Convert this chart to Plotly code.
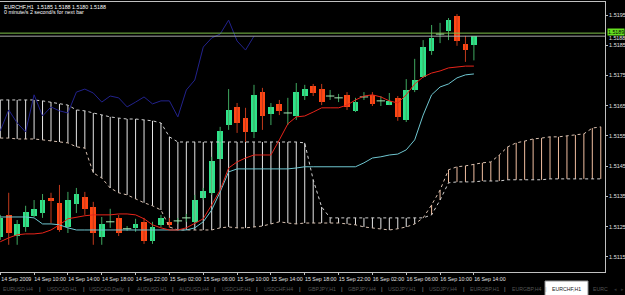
import plotly.graph_objects as go

# ---------------- data (EURCHF, H1) ----------------
bars = list(range(57))  # 14 Sep 06:00 ... 16 Sep 14:00
opens = [1.51216, 1.51289, 1.51219, 1.51249, 1.51286, 1.51295, 1.51345, 1.51329, 1.51249, 1.51325,
         1.51348, 1.51315, 1.51216, 1.51266, 1.51279, 1.51243, 1.51246, 1.51266, 1.51203, 1.51256,
         1.51266, 1.51269, 1.51279, 1.51266, 1.51345, 1.51362, 1.51474, 1.51586, 1.51646, 1.51609,
         1.51563, 1.51695, 1.51623, 1.51656, 1.51626, 1.51616, 1.51682, 1.51715, 1.51705, 1.51682,
         1.51676, 1.51686, 1.51633, 1.51679, 1.51686, 1.51666, 1.51652, 1.51676, 1.51603, 1.51702,
         1.51745, 1.51831, 1.51887, 1.51897, 1.51947, 1.51854, 1.51850]
highs = [1.51289, 1.51362, 1.51272, 1.51319, 1.51338, 1.51358, 1.51362, 1.51388, 1.51365, 1.51378,
         1.51365, 1.51332, 1.51282, 1.51309, 1.51289, 1.51252, 1.51276, 1.51279, 1.51266, 1.51289,
         1.51279, 1.51279, 1.51292, 1.51355, 1.51378, 1.51481, 1.51580, 1.51705, 1.51659, 1.51643,
         1.51719, 1.51709, 1.51659, 1.51669, 1.51676, 1.51725, 1.51719, 1.51722, 1.51722, 1.51702,
         1.51689, 1.51695, 1.51676, 1.51695, 1.51695, 1.51682, 1.51692, 1.51682, 1.51738, 1.51805,
         1.51867, 1.51917, 1.51924, 1.51940, 1.51953, 1.51881, 1.51880]
lows = [1.51206, 1.51190, 1.51190, 1.51233, 1.51282, 1.51279, 1.51262, 1.51233, 1.51229, 1.51295,
        1.51289, 1.51190, 1.51190, 1.51246, 1.51219, 1.51236, 1.51233, 1.51193, 1.51193, 1.51249,
        1.51246, 1.51259, 1.51266, 1.51259, 1.51338, 1.51355, 1.51471, 1.51570, 1.51560, 1.51530,
        1.51543, 1.51570, 1.51586, 1.51619, 1.51586, 1.51603, 1.51669, 1.51682, 1.51652, 1.51669,
        1.51662, 1.51636, 1.51629, 1.51669, 1.51649, 1.51649, 1.51652, 1.51600, 1.51596, 1.51695,
        1.51742, 1.51818, 1.51857, 1.51867, 1.51848, 1.51795, 1.51800]
closes = [1.51279, 1.51229, 1.51259, 1.51299, 1.51309, 1.51338, 1.51335, 1.51239, 1.51338, 1.51358,
          1.51309, 1.51229, 1.51259, 1.51266, 1.51229, 1.51243, 1.51259, 1.51203, 1.51249, 1.51279,
          1.51256, 1.51269, 1.51279, 1.51338, 1.51368, 1.51467, 1.51567, 1.51636, 1.51593, 1.51563,
          1.51686, 1.51616, 1.51646, 1.51633, 1.51626, 1.51695, 1.51705, 1.51692, 1.51662, 1.51682,
          1.51676, 1.51646, 1.51662, 1.51679, 1.51656, 1.51666, 1.51666, 1.51613, 1.51702, 1.51735,
          1.51844, 1.51874, 1.51887, 1.51933, 1.51864, 1.51834, 1.51880]

tenkan = [1.51200, 1.51213, 1.51223, 1.51226, 1.51226, 1.51229, 1.51239, 1.51256, 1.51276, 1.51282,
          1.51286, 1.51289, 1.51289, 1.51289, 1.51292, 1.51292, 1.51289, 1.51276, 1.51256, 1.51246,
          1.51239, 1.51239, 1.51246, 1.51262, 1.51276, 1.51322, 1.51371, 1.51444, 1.51464, 1.51477,
          1.51487, 1.51487, 1.51487, 1.51537, 1.51590, 1.51613, 1.51616, 1.51629, 1.51643, 1.51643,
          1.51643, 1.51652, 1.51669, 1.51682, 1.51686, 1.51679, 1.51666, 1.51659, 1.51686, 1.51722,
          1.51745, 1.51758, 1.51765, 1.51775, 1.51778, 1.51781, 1.51781]
kijun = [1.51282, 1.51282, 1.51282, 1.51282, 1.51279, 1.51259, 1.51259, 1.51256, 1.51246, 1.51239,
         1.51239, 1.51239, 1.51239, 1.51239, 1.51239, 1.51239, 1.51239, 1.51239, 1.51239, 1.51239,
         1.51239, 1.51239, 1.51239, 1.51246, 1.51266, 1.51305, 1.51365, 1.51431, 1.51441, 1.51441,
         1.51441, 1.51441, 1.51441, 1.51441, 1.51441, 1.51444, 1.51448, 1.51448, 1.51448, 1.51448,
         1.51448, 1.51448, 1.51448, 1.51461, 1.51477, 1.51481, 1.51487, 1.51490, 1.51504, 1.51537,
         1.51619, 1.51686, 1.51712, 1.51722, 1.51742, 1.51752, 1.51755]
# Senkou spans, drawn 26 bars ahead (bars 0..71)
span_a = [1.51543, 1.51543, 1.51540, 1.51540, 1.51540, 1.51537, 1.51533, 1.51530, 1.51527, 1.51514,
          1.51510, 1.51428, 1.51411, 1.51378, 1.51362, 1.51355, 1.51342, 1.51329, 1.51319, 1.51305,
          1.51249, 1.51239, 1.51239, 1.51239, 1.51239, 1.51239, 1.51246, 1.51249, 1.51246, 1.51246,
          1.51249, 1.51252, 1.51259, 1.51266, 1.51262, 1.51259, 1.51262, 1.51262, 1.51262, 1.51262,
          1.51262, 1.51259, 1.51256, 1.51249, 1.51246, 1.51243, 1.51239, 1.51243, 1.51249, 1.51259,
          1.51279, 1.51322, 1.51371, 1.51438, 1.51448, 1.51451, 1.51457, 1.51461, 1.51464, 1.51487,
          1.51514, 1.51527, 1.51533, 1.51540, 1.51543, 1.51547, 1.51547, 1.51550, 1.51553, 1.51557,
          1.51576, 1.51580]
span_b = [1.51669, 1.51669, 1.51669, 1.51669, 1.51669, 1.51666, 1.51662, 1.51656, 1.51652, 1.51636,
          1.51633, 1.51626, 1.51619, 1.51613, 1.51609, 1.51606, 1.51606, 1.51603, 1.51600, 1.51593,
          1.51547, 1.51530, 1.51530, 1.51530, 1.51530, 1.51530, 1.51530, 1.51530, 1.51530, 1.51530,
          1.51530, 1.51530, 1.51530, 1.51530, 1.51530, 1.51530, 1.51527, 1.51405, 1.51315, 1.51279,
          1.51279, 1.51279, 1.51279, 1.51279, 1.51279, 1.51279, 1.51279, 1.51279, 1.51279, 1.51279,
          1.51279, 1.51289, 1.51338, 1.51395, 1.51398, 1.51398, 1.51398, 1.51401, 1.51401, 1.51401,
          1.51405, 1.51405, 1.51405, 1.51405, 1.51405, 1.51408, 1.51408, 1.51408, 1.51408, 1.51408,
          1.51408, 1.51408]
chikou_shift = 26

time_label_bars = [0, 4, 8, 12, 16, 20, 24, 28, 32, 36, 40, 44, 48, 52, 56]
time_labels = ["14 Sep 2009", "14 Sep 10:00", "14 Sep 14:00", "14 Sep 18:00", "14 Sep 22:00",
               "15 Sep 02:00", "15 Sep 06:00", "15 Sep 10:00", "15 Sep 14:00", "15 Sep 18:00",
               "15 Sep 22:00", "16 Sep 02:00", "16 Sep 06:00", "16 Sep 10:00", "16 Sep 14:00"]
price_ticks = [1.5115, 1.5125, 1.5135, 1.5145, 1.5155, 1.5165, 1.5175, 1.5185, 1.5195]
hline_price = 1.5189
bid_price = 1.5188
title_line1 = "EURCHF,H1  1.5185 1.5188 1.5180 1.5188"
title_line2 = "0 minute/s 2 second/s for next bar"
tabs = ["EURUSD,H4", "USDCAD,H1", "USDCAD,Daily", "AUDUSD,H1", "AUDUSD,H4", "USDCHF,H1",
        "USDCHF,H4", "GBPJPY,H1", "GBPJPY,H4", "USDJPY,H1", "USDJPY,H4", "EURGBP,H1",
        "EURGBP,H4", "EURCHF,H1", "EURC"]
tab_centers_px = [18, 62, 106, 152, 194, 236, 278, 322, 362, 402, 443, 484, 526, 566, 600]
active_tab = "EURCHF,H1"

# ---------------- styles ----------------
FONT = "Liberation Sans"
BULL = "#2ee38a"
BEAR = "#ff4714"
BULL_WICK = "#3fa860"
BEAR_WICK = "#c23a1c"
DOJI = "#a8e8b4"
KUMO_UP = "#f0bea0"
KUMO_DN = "#e6e6e6"
PLOT_W, PLOT_H, TOP = 605, 270, 2

fig = go.Figure()

# cloud histogram
ux, uy, dx, dy = [], [], [], []
for i, (a, b) in enumerate(zip(span_a, span_b)):
    if a > b:
        ux += [i, i, None]; uy += [a, b, None]
    elif b > a:
        dx += [i, i, None]; dy += [a, b, None]
fig.add_trace(go.Scatter(x=dx, y=dy, mode="lines", line=dict(color=KUMO_DN, width=1), hoverinfo="skip"))
fig.add_trace(go.Scatter(x=ux, y=uy, mode="lines", line=dict(color=KUMO_UP, width=1), hoverinfo="skip"))
span_x = list(range(len(span_a)))
fig.add_trace(go.Scatter(x=span_x, y=span_a, mode="lines", line=dict(color="#d8c0b0", width=1, dash="dot")))
fig.add_trace(go.Scatter(x=span_x, y=span_b, mode="lines", line=dict(color="#d0d0d0", width=1, dash="dot")))

# wicks
bwx, bwy, rwx, rwy = [], [], [], []
for i, o, h, l, c in zip(bars, opens, highs, lows, closes):
    if c >= o:
        bwx += [i, i, None]; bwy += [l, h, None]
    else:
        rwx += [i, i, None]; rwy += [l, h, None]
fig.add_trace(go.Scatter(x=bwx, y=bwy, mode="lines", line=dict(color=BULL_WICK, width=1)))
fig.add_trace(go.Scatter(x=rwx, y=rwy, mode="lines", line=dict(color=BEAR_WICK, width=1)))

# bodies
body_base = [min(o, c) for o, c in zip(opens, closes)]
body_h = [abs(c - o) for o, c in zip(opens, closes)]
body_col = [BULL if c > o else BEAR for o, c in zip(opens, closes)]
fig.add_trace(go.Bar(x=bars, y=body_h, base=body_base, width=0.68,
                     marker=dict(color=body_col, line=dict(width=0))))
doji_x = [i for i, o, c in zip(bars, opens, closes) if o == c]
doji_y = [c for o, c in zip(opens, closes) if o == c]
fig.add_trace(go.Scatter(x=doji_x, y=doji_y, mode="markers",
                         marker=dict(symbol="line-ew", size=6, line=dict(color=DOJI, width=1))))

# Ichimoku lines
fig.add_trace(go.Scatter(x=bars, y=kijun, mode="lines", line=dict(color="#6fc6d0", width=1)))
fig.add_trace(go.Scatter(x=bars, y=tenkan, mode="lines", line=dict(color="#e8241a", width=1)))
fig.add_trace(go.Scatter(x=bars[:len(bars) - chikou_shift], y=closes[chikou_shift:], mode="lines",
                         line=dict(color="#22228c", width=1)))

# horizontal lines
fig.add_hline(y=hline_price, line=dict(color="#7ec04a", width=1))
fig.add_hline(y=bid_price, line=dict(color="#a8a8a8", width=1))

ann = []
ann.append(dict(xref="paper", yref="y", x=1.0, y=hline_price, xanchor="left", yanchor="middle",
                text=str(hline_price), showarrow=False, bgcolor="#66e020", borderpad=0, xshift=2, yshift=1,
                font=dict(family=FONT, size=5.3, color="#000000")))
ann.append(dict(xref="paper", yref="y", x=1.0, y=bid_price, xanchor="left", yanchor="middle",
                text=str(bid_price), showarrow=False, xshift=2, yshift=-2,
                font=dict(family=FONT, size=5.3, color="#e8e8e8")))
ann.append(dict(xref="paper", yref="paper", x=0.003, y=(PLOT_H + TOP - 5 - TOP) / PLOT_H, xanchor="left",
                yanchor="middle", text=title_line1, showarrow=False,
                font=dict(family=FONT, size=5.3, color="#ffffff")))
ann.append(dict(xref="paper", yref="paper", x=0.003, y=(PLOT_H - 10) / PLOT_H, xanchor="left",
                yanchor="middle", text=title_line2, showarrow=False,
                font=dict(family=FONT, size=5.3, color="#ffffff")))

shapes = []
# tab strip
shapes.append(dict(type="rect", xref="paper", yref="paper", x0=-0.01, x1=625 / PLOT_W + 0.01,
                   y0=(272 - 281) / PLOT_H, y1=(272 - 297) / PLOT_H, fillcolor="#e4e4e4",
                   line=dict(width=0), layer="above"))
shapes.append(dict(type="line", xref="paper", yref="paper", x0=0, x1=625 / PLOT_W,
                   y0=(272 - 281) / PLOT_H, y1=(272 - 281) / PLOT_H, line=dict(color="#a0a0a0", width=1)))
for name, cx in zip(tabs, tab_centers_px):
    if name == active_tab:
        shapes.append(dict(type="rect", xref="paper", yref="paper", x0=545 / PLOT_W, x1=588 / PLOT_W,
                           y0=(272 - 281) / PLOT_H, y1=(272 - 296) / PLOT_H, fillcolor="#ffffff",
                           line=dict(color="#909090", width=1), layer="above"))
    ann.append(dict(xref="paper", yref="paper", x=cx / PLOT_W, y=(272 - 288.5) / PLOT_H,
                    xanchor="center", yanchor="middle", text=name, showarrow=False,
                    font=dict(family=FONT, size=5.2, color="#202020" if name == active_tab else "#555555")))
for a, b in zip(tab_centers_px[:-2], tab_centers_px[1:-1]):
    ann.append(dict(xref="paper", yref="paper", x=(a + b) / 2 / PLOT_W, y=(272 - 288.5) / PLOT_H,
                    xanchor="center", yanchor="middle", text="|", showarrow=False,
                    font=dict(family=FONT, size=6, color="#909090")))
ann.append(dict(xref="paper", yref="paper", x=616 / PLOT_W, y=(272 - 288.5) / PLOT_H, xanchor="center",
                yanchor="middle", text="◂", showarrow=False, font=dict(family="DejaVu Sans", size=5, color="#303030")))
ann.append(dict(xref="paper", yref="paper", x=622 / PLOT_W, y=(272 - 288.5) / PLOT_H, xanchor="center",
                yanchor="middle", text="▸", showarrow=False, font=dict(family="DejaVu Sans", size=5, color="#303030")))

fig.update_layout(
    width=625, height=295,
    margin=dict(l=0, r=20, t=TOP, b=23),
    paper_bgcolor="#000000", plot_bgcolor="#000000",
    showlegend=False, bargap=0, barmode="overlay",
    xaxis=dict(range=[-0.03, 71.5], showgrid=False, zeroline=False,
               tickmode="array", tickvals=time_label_bars, ticktext=time_labels,
               ticks="outside", ticklen=2, tickcolor="#c0c0c0", ticklabelshift=16,
               tickfont=dict(family=FONT, size=5.3, color="#e0e0e0"),
               showline=True, linecolor="#c0c0c0", linewidth=1, mirror=True),
    yaxis=dict(range=[1.51100, 1.51993], side="right", showgrid=False, zeroline=False,
               tickmode="array", tickvals=price_ticks, tickformat=".4f",
               ticks="outside", ticklen=2, tickcolor="#c0c0c0",
               tickfont=dict(family=FONT, size=5.5, color="#e0e0e0"),
               showline=True, linecolor="#c0c0c0", linewidth=1),
    annotations=ann, shapes=shapes,
)

fig.write_html("out.html")
